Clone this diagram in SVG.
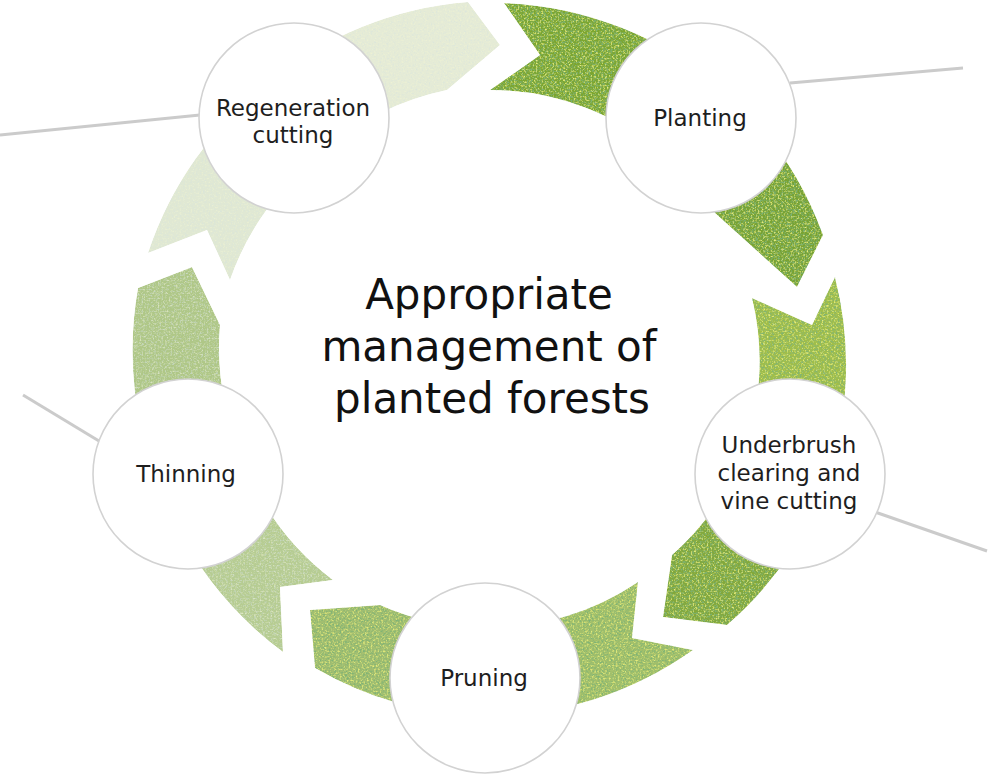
<svg xmlns="http://www.w3.org/2000/svg" width="988" height="778" viewBox="0 0 988 778">
  <style>
    .node circle { fill: #ffffff; stroke: #d2d2d2; stroke-width: 1.6; }
    .label { font-family: "DejaVu Sans", "Liberation Sans", sans-serif; font-size: 23px; fill: #1e1e1e; text-anchor: middle; }
    .title { font-family: "DejaVu Sans", "Liberation Sans", sans-serif; font-size: 42px; fill: #111111; text-anchor: middle; }
    .ray { stroke: #cbcbcb; stroke-width: 3; fill: none; }
  </style>
  <defs>
    <filter id="tex" x="0" y="0" width="100%" height="100%">
      <feTurbulence type="fractalNoise" baseFrequency="0.55" numOctaves="2" seed="7" result="n"/>
      <feColorMatrix in="n" type="matrix" values="0 0 0 0 0.2  0 0 0 0 0.45  0 0 0 0 0.18  3.2 0 0 0 -1.45" result="d"/>
      <feColorMatrix in="n" type="matrix" values="0 0 0 0 0.8  0 0 0 0 0.86  0 0 0 0 0.2  0 3 0 0 -1.55" result="y"/>
      <feMerge result="m"><feMergeNode in="SourceGraphic"/><feMergeNode in="d"/><feMergeNode in="y"/></feMerge>
      <feComposite in="m" in2="SourceGraphic" operator="in"/>
    </filter>
    <filter id="texl" x="0" y="0" width="100%" height="100%">
      <feTurbulence type="fractalNoise" baseFrequency="0.55" numOctaves="2" seed="3" result="n"/>
      <feColorMatrix in="n" type="matrix" values="0 0 0 0 0.66  0 0 0 0 0.76  0 0 0 0 0.74  1.6 0 0 0 -0.8" result="d"/>
      <feColorMatrix in="n" type="matrix" values="0 0 0 0 0.9  0 0 0 0 0.93  0 0 0 0 0.65  0 1.6 0 0 -0.85" result="y"/>
      <feMerge result="m"><feMergeNode in="SourceGraphic"/><feMergeNode in="d"/><feMergeNode in="y"/></feMerge>
      <feComposite in="m" in2="SourceGraphic" operator="in"/>
    </filter>
  </defs>

  <g id="rays">
    <line class="ray" x1="0" y1="135" x2="200" y2="115"/>
    <line class="ray" x1="790" y1="83" x2="963" y2="68"/>
    <line class="ray" x1="23" y1="395" x2="99" y2="441"/>
    <line class="ray" x1="875" y1="512" x2="987" y2="551"/>
  </g>

  <g id="connectors">
    <path id="p1" filter="url(#texl)" fill="#e5ebd6" d="M268,83 A357,357 0 0 1 468,2 L500,45 L447,90 A270,270 0 0 0 323.4,151.8 Z"/>
    <path id="p2" filter="url(#tex)" fill="#7ca62f" d="M504,3 A357,357 0 0 1 725.5,91.3 L667.8,157.7 A268,268 0 0 0 490,90 L540,55 Z"/>
    <path id="p3" filter="url(#tex)" fill="#78a331" d="M725.5,91.3 A356,356 0 0 1 823,235 L797,287 L715,213 A268,268 0 0 0 667.8,157.7 Z"/>
    <path id="p4" filter="url(#tex)" fill="#a0be4a" d="M752,298 L812,325 L835,277 A356,356 0 0 1 824.4,487.6 L742.3,456 A268,268 0 0 0 752,298 Z"/>
    <path id="p5" filter="url(#tex)" fill="#82a83a" d="M824.4,487.6 A356,356 0 0 1 727,625 L663,617 L672,555 A268,268 0 0 0 742.3,456 Z"/>
    <path id="p6" filter="url(#tex)" fill="#a3c06a" d="M638,582 L632,638 L693,650 A356,356 0 0 1 485.8,716 L487.3,628 A268,268 0 0 0 638,582 Z"/>
    <path id="p7" filter="url(#tex)" fill="#a2be70" d="M485.8,716 A356,356 0 0 1 315,668 L310,610 L380,605 A268,268 0 0 0 487.3,628 Z"/>
    <path id="p8" filter="url(#texl)" fill="#b6cc92" d="M333,580 L280,587 L283,652 A358,358 0 0 1 159.6,487.6 L241.8,456 A270,270 0 0 0 333,580 Z"/>
    <path id="p9" filter="url(#texl)" fill="#afc787" d="M159.6,487.6 A360,360 0 0 1 138,288 L192,267 L220,325 A272,272 0 0 0 241.8,456 Z"/>
    <path id="p10" filter="url(#texl)" fill="#e0e8d3" d="M148,253 L207,230 L230,280 A272,272 0 0 1 323.4,151.8 L268,83 A358,358 0 0 0 148,253 Z"/>
  </g>

  <g id="title">
    <text class="title" x="489" y="309">Appropriate</text>
    <text class="title" x="489" y="361">management of</text>
    <text class="title" x="492" y="413">planted forests</text>
  </g>

  <g id="node-regeneration" class="node">
    <circle cx="294" cy="118" r="95"/>
    <text class="label" x="293" y="116">Regeneration</text>
    <text class="label" x="293" y="143">cutting</text>
  </g>
  <g id="node-planting" class="node">
    <circle cx="701" cy="118" r="95"/>
    <text class="label" x="700" y="126">Planting</text>
  </g>
  <g id="node-underbrush" class="node">
    <circle cx="790" cy="474" r="95"/>
    <text class="label" x="789" y="453">Underbrush</text>
    <text class="label" x="789" y="481">clearing and</text>
    <text class="label" x="789" y="509">vine cutting</text>
  </g>
  <g id="node-pruning" class="node">
    <circle cx="485" cy="678" r="95"/>
    <text class="label" x="484" y="686">Pruning</text>
  </g>
  <g id="node-thinning" class="node">
    <circle cx="188" cy="474" r="95"/>
    <text class="label" x="186" y="482">Thinning</text>
  </g>
</svg>
